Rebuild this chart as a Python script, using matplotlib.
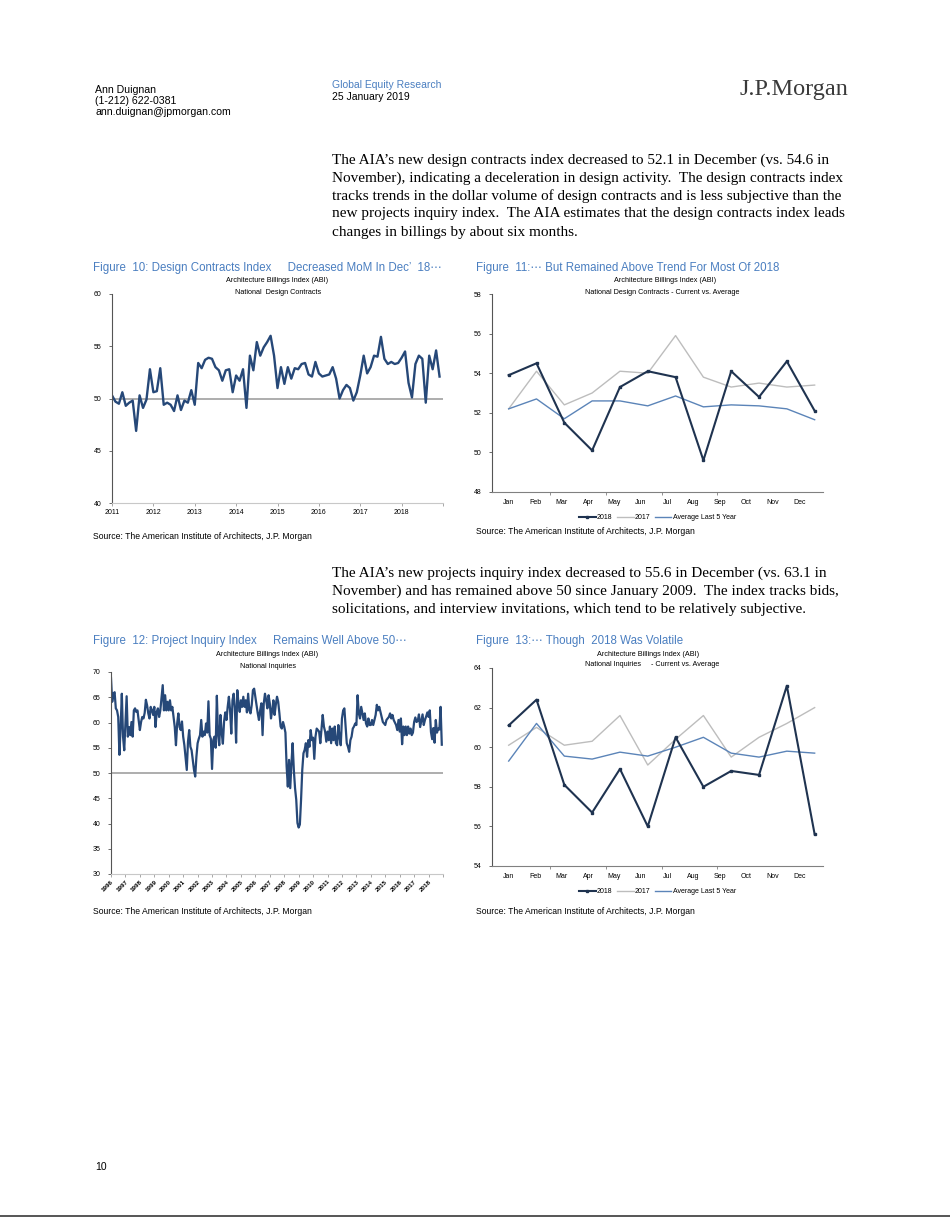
import numpy as np
import matplotlib
matplotlib.use('Agg')
import matplotlib.pyplot as plt
from matplotlib.lines import Line2D

plt.rcParams['font.family'] = ['Liberation Sans', 'DejaVu Sans']

# ---------------- data ----------------
months = ['Jan', 'Feb', 'Mar', 'Apr', 'May', 'Jun', 'Jul', 'Aug', 'Sep', 'Oct', 'Nov', 'Dec']

# Figure 11: National Design Contracts - current vs average
design_2018 = [53.9, 54.5, 51.5, 50.1, 53.3, 54.1, 53.8, 49.6, 54.1, 52.8, 54.6, 52.1]
design_2017 = [52.2, 54.1, 52.4, 53.0, 54.1, 54.0, 55.9, 53.8, 53.3, 53.5, 53.3, 53.4]
design_avg5 = [52.2, 52.7, 51.7, 52.6, 52.6, 52.35, 52.85, 52.3, 52.4, 52.35, 52.2, 51.65]

# Figure 10: National Design Contracts, monthly 2011-2016 (2017-2018 from above)
design_2011 = [50.3, 49.7, 49.5, 50.6, 49.3, 49.6, 49.8, 46.9, 50.3, 49.1, 49.9, 52.8]
design_2012 = [50.6, 50.7, 52.9, 49.4, 49.6, 49.4, 48.8, 50.3, 48.9, 49.8, 49.6, 50.8]
design_2013 = [49.4, 53.4, 52.9, 53.7, 53.9, 53.8, 53.0, 52.7, 51.7, 52.7, 52.8, 50.6]
design_2014 = [52.2, 51.7, 52.8, 49.1, 54.1, 52.7, 55.4, 54.1, 54.9, 55.4, 56.0, 54.1]
design_2015 = [51.0, 53.0, 51.4, 53.0, 51.9, 52.9, 52.8, 53.3, 53.4, 52.3, 52.1, 53.5]
design_2016 = [52.4, 52.1, 52.2, 52.3, 53.0, 51.9, 50.0, 50.8, 51.3, 51.0, 49.8, 50.6]

# Figure 13: National Inquiries - current vs average
inquiry_2018 = [61.1, 62.4, 58.1, 56.7, 58.9, 56.0, 60.5, 58.0, 58.8, 58.6, 63.1, 55.6]
inquiry_2017 = [60.1, 61.0, 60.1, 60.3, 61.6, 59.1, 60.4, 61.6, 59.5, 60.5, 61.2, 62.0]
inquiry_avg5 = [59.3, 61.2, 59.55, 59.4, 59.75, 59.55, 60.0, 60.5, 59.7, 59.5, 59.8, 59.7]

# Figure 12: National Inquiries, monthly 1996-2016 (2017-2018 from above)
inquiry_1996_2001 = [
    68.8, 64.1, 65.7, 66.0, 62.8, 62.4, 61.1, 53.6, 59.1, 65.7, 57.2, 54.5,
    60.0, 65.2, 57.2, 59.1, 57.5, 60.1, 57.2, 62.4, 62.8, 62.1, 62.4, 60.5,
    58.5, 60.1, 61.1, 60.8, 61.9, 64.5, 63.4, 61.8, 60.8, 63.1, 62.4, 61.5,
    63.1, 59.1, 62.1, 62.8, 61.1, 62.4, 65.0, 67.4, 62.4, 65.4, 62.4, 64.1,
    62.4, 64.4, 62.4, 63.1, 61.1, 59.1, 55.5, 59.8, 61.8, 59.1, 58.5, 60.2,
    57.2, 55.5, 53.0, 50.6, 56.2, 58.5, 55.2, 54.5, 52.6, 50.6, 49.3, 53.2]
inquiry_2002_2007 = [
    55.9, 56.8, 57.5, 60.5, 57.2, 58.2, 57.5, 59.8, 58.0, 64.2, 57.5, 56.8,
    50.8, 56.5, 57.2, 55.0, 65.3, 57.5, 55.5, 61.5, 58.0, 55.8, 60.2, 62.0,
    60.5, 63.1, 65.1, 62.4, 57.8, 64.4, 65.7, 62.8, 56.0, 66.4, 63.8, 62.1,
    64.4, 63.1, 65.1, 63.1, 64.4, 62.0, 65.7, 62.4, 61.8, 63.5, 66.4, 66.7,
    65.1, 63.5, 61.8, 60.5, 62.4, 63.8, 57.5, 63.8, 65.7, 64.4, 62.8, 65.4,
    63.8, 60.8, 62.4, 64.4, 61.5, 63.5, 65.1, 64.1, 61.8, 59.2, 58.8, 60.1]
inquiry_2008_2012 = [
    59.2, 58.0, 51.3, 47.3, 52.6, 47.0, 51.9, 55.9, 50.6, 47.0, 44.7, 40.1,
    39.2, 39.8, 44.7, 50.6, 53.9, 54.6, 55.9, 53.2, 56.5, 55.2, 58.5, 56.5,
    57.0, 52.8, 57.2, 58.8, 58.5, 58.2, 55.9, 58.8, 61.5, 59.2, 58.2, 56.2,
    58.2, 56.5, 59.2, 55.9, 58.8, 56.5, 59.2, 55.9, 55.5, 59.5, 57.0, 55.5,
    60.8, 62.4, 62.8, 59.2, 55.9, 55.2, 54.2, 56.5, 57.2, 58.8, 59.2, 59.8]
inquiry_2013_2016 = [
    59.5, 65.4, 61.8, 60.8, 63.1, 61.8, 60.5, 61.8, 59.8, 59.2, 60.8, 59.5,
    59.5, 60.5, 59.5, 60.5, 61.5, 63.5, 62.4, 63.1, 62.1, 61.1, 60.1, 59.8,
    59.5, 60.5, 60.8, 61.1, 61.8, 60.8, 61.5, 60.5, 60.0, 59.5, 58.5, 60.5,
    58.2, 60.8, 55.7, 59.2, 57.5, 59.2, 57.5, 59.2, 57.8, 58.8, 57.5, 58.0]

design_years = [str(y) for y in range(2011, 2019)]
inquiry_years = [str(y) for y in range(1996, 2019)]

# ---------------- page ----------------
W, H = 950, 1225
fig = plt.figure(figsize=(W / 100, H / 100), dpi=100)


def fx(x):
    return x / W


def fy(y):
    return 1 - y / H


def add_ax(l, t, r, b):
    return fig.add_axes([fx(l), fy(b), (r - l) / W, (b - t) / H])


def txt(x, y, s, **kw):
    kw.setdefault('va', 'center')
    fig.text(fx(x), fy(y), s, **kw)


BLUE_T = '#4A7EC0'
LINE = '#264878'
SERIF = ['Liberation Serif', 'DejaVu Serif']

# header
txt(95, 90, 'Ann Duignan', fontsize=7.6)
txt(95, 101, '(1-212) 622-0381', fontsize=7.6)
txt(95, 112, 'ann.duignan@jpmorgan.com', fontsize=7.6)
txt(332, 85, 'Global Equity Research', fontsize=7.5, color=BLUE_T)
txt(332, 97, '25 January 2019', fontsize=7.5)
txt(848, 90, 'J.P.Morgan', fontsize=17.5, family=SERIF, color='#3a3a3a', ha='right')

para1 = ['The AIA’s new design contracts index decreased to 52.1 in December (vs. 54.6 in',
         'November), indicating a deceleration in design activity.  The design contracts index',
         'tracks trends in the dollar volume of design contracts and is less subjective than the',
         'new projects inquiry index.  The AIA estimates that the design contracts index leads',
         'changes in billings by about six months.']
for i, s in enumerate(para1):
    txt(332, 160 + 18 * i, s, fontsize=11, family=SERIF)

para2 = ['The AIA’s new projects inquiry index decreased to 55.6 in December (vs. 63.1 in',
         'November) and has remained above 50 since January 2009.  The index tracks bids,',
         'solicitations, and interview invitations, which tend to be relatively subjective.']
for i, s in enumerate(para2):
    txt(332, 573 + 18 * i, s, fontsize=11, family=SERIF)

# titles
txt(93, 268, 'Figure  10: Design Contracts Index     Decreased MoM In Dec’  18⋯', fontsize=8.3, color=BLUE_T)
txt(476, 268, 'Figure  11:⋯ But Remained Above Trend For Most Of 2018', fontsize=8.3, color=BLUE_T)
txt(93, 641, 'Figure  12: Project Inquiry Index     Remains Well Above 50⋯', fontsize=8.3, color=BLUE_T)
txt(476, 641, 'Figure  13:⋯ Though  2018 Was Volatile', fontsize=8.3, color=BLUE_T)

src = 'Source: The American Institute of Architects, J.P. Morgan'
txt(93, 537, src, fontsize=6.2)
txt(476, 532, src, fontsize=6.2)
txt(93, 911, src, fontsize=6.2)
txt(476, 911, src, fontsize=6.2)

# subtitles
txt(277, 281, 'Architecture Billings Index (ABI)', fontsize=5.2, ha='center')
txt(278, 292, 'National  Design Contracts', fontsize=5.2, ha='center')
txt(665, 281, 'Architecture Billings Index (ABI)', fontsize=5.2, ha='center')
txt(662, 292, 'National Design Contracts - Current vs. Average', fontsize=5.2, ha='center')
txt(267, 655, 'Architecture Billings Index (ABI)', fontsize=5.2, ha='center')
txt(268, 666, 'National Inquiries', fontsize=5.2, ha='center')
txt(648, 654, 'Architecture Billings Index (ABI)', fontsize=5.2, ha='center')
txt(652, 665, 'National Inquiries     - Current vs. Average', fontsize=5.2, ha='center')

txt(95, 1167, '10', fontsize=7.5)
fig.add_artist(Line2D([0, 1], [fy(1216), fy(1216)], color='#555555', lw=1.4))


def style(ax, bottom_color):
    for s in ['top', 'right']:
        ax.spines[s].set_visible(False)
    ax.spines['left'].set_color('#555555')
    ax.spines['left'].set_linewidth(0.8)
    ax.spines['bottom'].set_color(bottom_color)
    ax.spines['bottom'].set_linewidth(0.8)
    ax.tick_params(axis='y', labelsize=5, length=2.5, width=0.6, color='#555555', pad=5)
    ax.tick_params(axis='x', labelsize=5, length=2.5, width=0.6, color='#999999')


# ---------- Figure 10 ----------
ax = add_ax(112, 294, 443, 503)
d_vals = design_2011 + design_2012 + design_2013 + design_2014 + design_2015 + design_2016 + design_2017 + design_2018
d_x = 2011 + np.arange(len(d_vals)) / 12
ax.axhline(50, color='#a0a0a0', lw=1.2, zorder=1)
ax.plot(d_x, d_vals, color=LINE, lw=1.7, zorder=2)
ax.set_xlim(2011, 2019)
ax.set_ylim(40, 60)
ax.set_yticks(range(40, 61, 5))
ax.set_xticks(np.arange(2011, 2020))
ax.set_xticklabels(design_years + [''])
style(ax, '#c8c8c8')
ax.tick_params(axis='x', pad=2)


# ---------- Figure 11 / 13 helper ----------
def monthly(ax, cur, prev, avg, ylo, yhi):
    xs = np.arange(12)
    ax.plot(xs, prev, color='#bdbdbd', lw=1.0, label='2017')
    ax.plot(xs, avg, color='#5b84b8', lw=1.0, label='Average Last 5 Year')
    ax.plot(xs, cur, color='#1f3350', lw=1.5, marker='s', ms=1.7, label='2018')
    ax.set_xlim(-0.6, 11.3)
    ax.set_ylim(ylo, yhi)
    ax.set_yticks(range(ylo, yhi + 1, 2))
    ax.set_xticks(np.arange(12) * 0.95)
    ax.set_xticklabels(months)
    ax.set_xticks([1.5, 3.5, 5.5, 7.5, 9.5], minor=True)
    style(ax, '#808080')
    ax.tick_params(axis='x', which='major', length=0, pad=5)
    ax.tick_params(axis='x', which='minor', length=2.5, color='#808080')
    h, l = ax.get_legend_handles_labels()
    order = [2, 0, 1]
    ax.legend([h[i] for i in order], [l[i] for i in order], loc='upper center',
              bbox_to_anchor=(0.5, -0.08), ncol=3, frameon=False, fontsize=5,
              handlelength=2.4, columnspacing=0.6, handletextpad=0.2)


ax = add_ax(492, 294, 823, 492)
monthly(ax, design_2018, design_2017, design_avg5, 48, 58)

# ---------- Figure 12 ----------
ax = add_ax(111, 672, 443, 874)
i_vals = inquiry_1996_2001 + inquiry_2002_2007 + inquiry_2008_2012 + inquiry_2013_2016 + inquiry_2017 + inquiry_2018
i_x = 1996 + np.arange(len(i_vals)) / 12
ax.axhline(50, color='#a0a0a0', lw=1.2, zorder=1)
ax.plot(i_x, i_vals, color=LINE, lw=1.6, zorder=2)
ax.set_xlim(1996, 2019)
ax.set_ylim(30, 70)
ax.set_yticks(range(30, 71, 5))
ax.set_xticks(np.arange(1996, 2020))
ax.set_xticklabels(inquiry_years + [''], rotation=45, ha='right', rotation_mode='anchor',
                   fontweight='bold')
style(ax, '#c8c8c8')
ax.tick_params(axis='x', labelsize=4.5, pad=1)

# ---------- Figure 13 ----------
ax = add_ax(492, 668, 823, 866)
monthly(ax, inquiry_2018, inquiry_2017, inquiry_avg5, 54, 64)

fig.savefig('out.png', dpi=100)
